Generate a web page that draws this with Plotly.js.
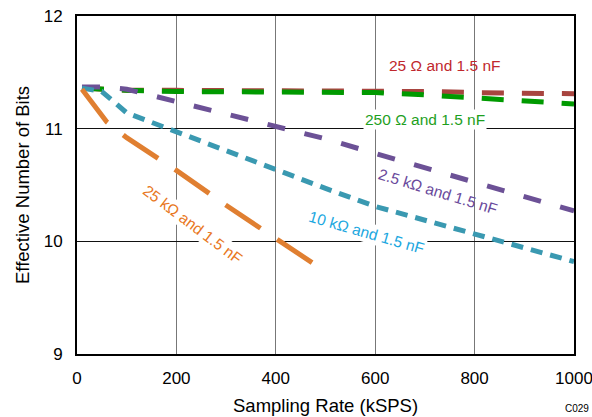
<!DOCTYPE html>
<html><head><meta charset="utf-8">
<script src="https://cdn.plot.ly/plotly-3.0.1.min.js"></script>
<style>html,body{margin:0;padding:0;background:#fff}#chart{width:592px;height:417px}</style>
</head><body><div id="chart"></div>
<script>
const xOrange = [10, 60, 100, 200, 300, 400, 480];
const yOrange = [11.35, 11.06, 10.92, 10.63, 10.32, 10.03, 9.79];
const xBlue = [10, 50, 100, 200, 300, 400, 500, 600, 700, 800, 900, 1000];
const yBlue = [11.36, 11.33, 11.14, 10.97, 10.80, 10.63, 10.47, 10.31, 10.19, 10.07, 9.95, 9.82];
const xPurple = [10, 50, 100, 200, 300, 400, 500, 600, 700, 800, 900, 1000];
const yPurple = [11.37, 11.37, 11.35, 11.24, 11.12, 11.01, 10.91, 10.78, 10.65, 10.52, 10.40, 10.27];
const xRed = [10, 50, 100, 200, 300, 400, 500, 600, 700, 800, 900, 1000];
const yRed = [11.36, 11.35, 11.34, 11.34, 11.34, 11.34, 11.33, 11.33, 11.33, 11.32, 11.32, 11.31];
const xGreen = [10, 50, 100, 200, 300, 400, 500, 600, 700, 800, 900, 1000];
const yGreen = [11.36, 11.35, 11.34, 11.33, 11.33, 11.33, 11.33, 11.32, 11.30, 11.27, 11.24, 11.22];
const labels = ["25 Ω and 1.5 nF", "250 Ω and 1.5 nF", "2.5 kΩ and 1.5 nF", "10 kΩ and 1.5 nF", "25 kΩ and 1.5 nF"];
const xTicks = [0, 200, 400, 600, 800, 1000];
const yTicks = [9, 10, 11, 12];
const xTitle = 'Sampling Rate (kSPS)';
const yTitle = 'Effective Number of Bits';
const figId = 'C029';

const traces = [
  {x: xRed, y: yRed, mode: 'lines', line: {color: '#A8443F', width: 5, dash: '22px,18px'}},
  {x: xGreen, y: yGreen, mode: 'lines', line: {color: '#009A00', width: 5, dash: '22px,18px'}},
  {x: xPurple, y: yPurple, mode: 'lines', line: {color: '#6C5196', width: 5, dash: '18px,20px'}},
  {x: xBlue, y: yBlue, mode: 'lines', line: {color: '#3A99B1', width: 5, dash: '12px,8px'}},
  {x: xOrange, y: yOrange, mode: 'lines', line: {color: '#E07F31', width: 5, dash: '42px,20px'}}
];
const F = 'Liberation Sans, Arial, sans-serif';
const layout = {
  width: 592, height: 417,
  margin: {l: 77, r: 18, t: 16, b: 63},
  showlegend: false,
  paper_bgcolor: '#fff', plot_bgcolor: '#fff',
  font: {family: F, color: '#000', size: 17},
  xaxis: {range: [0, 1000], tickvals: xTicks, ticktext: xTicks.map(String), showgrid: true, gridcolor: '#777', gridwidth: 1,
    zeroline: false, showline: true, linecolor: '#000', linewidth: 2, mirror: true, ticks: '', ticklabelstandoff: 8,
    ticklabeloverflow: 'allow', automargin: false, tickfont: {size: 17}},
  yaxis: {range: [9, 12], tickvals: yTicks, ticktext: yTicks.map(String), showgrid: true, gridcolor: '#111', gridwidth: 1,
    zeroline: false, showline: true, linecolor: '#000', linewidth: 2, mirror: true, ticks: '', ticklabelstandoff: 9,
    automargin: false, tickfont: {size: 17}},
  annotations: [
    {xref: 'paper', yref: 'paper', x: 0.5, y: -0.151, xanchor: 'center', yanchor: 'middle', text: xTitle, showarrow: false, font: {size: 18.5}},
    {xref: 'paper', yref: 'paper', x: -0.1107, y: 0.5, xanchor: 'center', yanchor: 'middle', text: yTitle, textangle: -90, showarrow: false, font: {size: 18.5}},
    {x: 740, y: 11.56, text: labels[0], showarrow: false, font: {color: '#C0272D', size: 15.5}},
    {x: 700, y: 11.08, text: labels[1], showarrow: false, font: {color: '#1EA01E', size: 15.5}, bgcolor: '#fff'},
    {x: 726, y: 10.44, text: labels[2], showarrow: false, font: {color: '#6A4A9C', size: 15.5}, textangle: 17},
    {x: 583, y: 10.08, text: labels[3], showarrow: false, font: {color: '#1BA7E0', size: 15.5}, textangle: 16, bgcolor: '#fff'},
    {x: 233, y: 10.15, text: labels[4], showarrow: false, font: {color: '#E87722', size: 15.5}, textangle: 37, bgcolor: '#fff'},
    {xref: 'paper', yref: 'paper', x: 1.006, y: -0.16, xanchor: 'center', yanchor: 'middle', text: figId, showarrow: false, font: {size: 10}}
  ]
};
Plotly.newPlot('chart', traces, layout, {staticPlot: true});
</script></body></html>
